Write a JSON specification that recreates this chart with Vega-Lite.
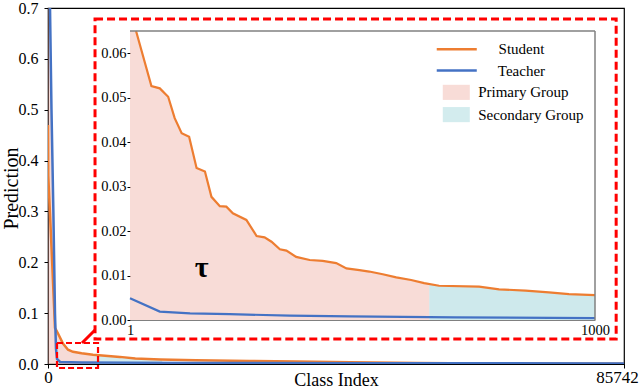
{
  "$schema": "https://vega.github.io/schema/vega-lite/v6.json",
  "width": 576,
  "height": 356,
  "autosize": {"type": "none"},
  "padding": {"left": 48, "top": 8, "right": 16, "bottom": 24},
  "background": "white",
  "config": {
    "view": {"stroke": "#000000", "strokeWidth": 1.2},
    "font": "Liberation Serif",
    "axis": {"grid": false, "labelFont": "Liberation Serif", "titleFont": "Liberation Serif", "titleFontWeight": "normal", "labelColor": "#000000", "titleColor": "#000000", "domainColor": "#000000", "tickColor": "#000000"}
  },
  "datasets": {
    "mainStudent": [
      {"i": 0, "v": 0.47}, {"i": 40, "v": 0.37}, {"i": 520, "v": 0.23}, {"i": 1040, "v": 0.071},
      {"i": 1490, "v": 0.06}, {"i": 2230, "v": 0.04}, {"i": 2980, "v": 0.028}, {"i": 3720, "v": 0.024},
      {"i": 5000, "v": 0.021}, {"i": 6700, "v": 0.018}, {"i": 8500, "v": 0.016}, {"i": 10700, "v": 0.014},
      {"i": 13000, "v": 0.011}, {"i": 16700, "v": 0.009}, {"i": 22000, "v": 0.0075}, {"i": 30000, "v": 0.006},
      {"i": 37000, "v": 0.0048}, {"i": 45000, "v": 0.0035}, {"i": 55000, "v": 0.0022}, {"i": 65000, "v": 0.0012},
      {"i": 75000, "v": 0.0007}, {"i": 85742, "v": 0.0004}
    ],
    "mainTeacher": [
      {"i": 0, "v": 0.85}, {"i": 300, "v": 0.7}, {"i": 520, "v": 0.5}, {"i": 800, "v": 0.3},
      {"i": 1040, "v": 0.1}, {"i": 1190, "v": 0.03}, {"i": 1340, "v": 0.01}, {"i": 1800, "v": 0.004},
      {"i": 5000, "v": 0.003}, {"i": 20000, "v": 0.0022}, {"i": 50000, "v": 0.0015}, {"i": 85742, "v": 0.001}
    ],
    "mainPrimary": [
      {"i": 0, "v": 0.85}, {"i": 300, "v": 0.7}, {"i": 520, "v": 0.5}, {"i": 800, "v": 0.3},
      {"i": 1040, "v": 0.1}, {"i": 1190, "v": 0.066}, {"i": 1490, "v": 0.06}, {"i": 2230, "v": 0.04},
      {"i": 2980, "v": 0.028}, {"i": 3720, "v": 0.024}, {"i": 5000, "v": 0.021}, {"i": 7000, "v": 0.0175}
    ],
    "mainSecondary": [
      {"i": 7000, "v": 0.0175}, {"i": 8500, "v": 0.016}, {"i": 10700, "v": 0.014}, {"i": 13000, "v": 0.011}, {"i": 17000, "v": 0.009}
    ],
    "bigBox": [{"i": 7000, "i2": 84575, "v": 0.0492, "v2": 0.6784}],
    "smallBox": [{"i": 1340, "i2": 7445, "v": -0.0079, "v2": 0.0413}],
    "connector": [{"i": 5061, "i2": 6996, "v": 0.0413, "v2": 0.0669}],
    "insStudent": [
      {"i": 14, "v": 0.065}, {"i": 47, "v": 0.0526}, {"i": 65, "v": 0.0521}, {"i": 83, "v": 0.0502},
      {"i": 97, "v": 0.0454}, {"i": 112, "v": 0.042}, {"i": 128, "v": 0.0412}, {"i": 144, "v": 0.0342},
      {"i": 162, "v": 0.0334}, {"i": 176, "v": 0.0277}, {"i": 194, "v": 0.0256}, {"i": 208, "v": 0.0255},
      {"i": 222, "v": 0.024}, {"i": 251, "v": 0.0225}, {"i": 273, "v": 0.0189}, {"i": 290, "v": 0.0186},
      {"i": 305, "v": 0.0176}, {"i": 323, "v": 0.0159}, {"i": 337, "v": 0.0156}, {"i": 358, "v": 0.0142},
      {"i": 387, "v": 0.0135}, {"i": 415, "v": 0.0133}, {"i": 444, "v": 0.0128}, {"i": 466, "v": 0.0116},
      {"i": 494, "v": 0.0112}, {"i": 515, "v": 0.0109}, {"i": 544, "v": 0.0103}, {"i": 573, "v": 0.0096},
      {"i": 605, "v": 0.009}, {"i": 633, "v": 0.0083}, {"i": 665, "v": 0.0077}, {"i": 751, "v": 0.0075},
      {"i": 794, "v": 0.0069}, {"i": 851, "v": 0.0066}, {"i": 901, "v": 0.0062}, {"i": 944, "v": 0.0058},
      {"i": 1000, "v": 0.0056}
    ],
    "insTeacher": [
      {"i": 1, "v": 0.0049}, {"i": 65, "v": 0.0019}, {"i": 130, "v": 0.0015}, {"i": 215, "v": 0.0013},
      {"i": 344, "v": 0.001}, {"i": 473, "v": 0.0008}, {"i": 700, "v": 0.0006}, {"i": 1000, "v": 0.0004}
    ],
    "insPrimary": [
      {"i": 1, "v": 0.065}, {"i": 14, "v": 0.065}, {"i": 47, "v": 0.0526}, {"i": 65, "v": 0.0521}, {"i": 83, "v": 0.0502},
      {"i": 97, "v": 0.0454}, {"i": 112, "v": 0.042}, {"i": 128, "v": 0.0412}, {"i": 144, "v": 0.0342},
      {"i": 162, "v": 0.0334}, {"i": 176, "v": 0.0277}, {"i": 194, "v": 0.0256}, {"i": 208, "v": 0.0255},
      {"i": 222, "v": 0.024}, {"i": 251, "v": 0.0225}, {"i": 273, "v": 0.0189}, {"i": 290, "v": 0.0186},
      {"i": 305, "v": 0.0176}, {"i": 323, "v": 0.0159}, {"i": 337, "v": 0.0156}, {"i": 358, "v": 0.0142},
      {"i": 387, "v": 0.0135}, {"i": 415, "v": 0.0133}, {"i": 444, "v": 0.0128}, {"i": 466, "v": 0.0116},
      {"i": 494, "v": 0.0112}, {"i": 515, "v": 0.0109}, {"i": 544, "v": 0.0103}, {"i": 573, "v": 0.0096},
      {"i": 605, "v": 0.009}, {"i": 633, "v": 0.0083}, {"i": 644, "v": 0.0081}
    ],
    "insSecondary": [
      {"i": 644, "v": 0.0081}, {"i": 665, "v": 0.0077}, {"i": 751, "v": 0.0075},
      {"i": 794, "v": 0.0069}, {"i": 851, "v": 0.0066}, {"i": 901, "v": 0.0062}, {"i": 944, "v": 0.0058},
      {"i": 1000, "v": 0.0056}
    ],
    "insFrameTop": [{"i": 1, "i2": 1000, "v": 0.065}],
    "insFrameRight": [{"i": 1000, "v": 0, "v2": 0.065}],
    "legendLines": [
      {"i": 660, "i2": 746, "v": 0.0609, "s": "Student"},
      {"i": 660, "i2": 746, "v": 0.0561, "s": "Teacher"}
    ],
    "legendBoxes": [
      {"i": 673, "i2": 731, "v": 0.0495, "v2": 0.0529, "s": "Primary Group"},
      {"i": 673, "i2": 731, "v": 0.0445, "v2": 0.0479, "s": "Secondary Group"}
    ],
    "legendLineText": [
      {"i": 842, "v": 0.0609, "label": "Student"},
      {"i": 842, "v": 0.0561, "label": "Teacher"}
    ],
    "legendBoxText": [
      {"i": 749, "v": 0.0512, "label": "Primary Group"},
      {"i": 749, "v": 0.0462, "label": "Secondary Group"}
    ],
    "tau": [{"i": 155, "v": 0.0117, "label": "τ"}]
  },
  "layer": [
    {
      "encoding": {
        "x": {"field": "i", "type": "quantitative",
          "scale": {"domain": [0, 85742], "nice": false, "zero": false},
          "axis": {"values": [0, 85742], "format": "d", "title": "Class Index", "labelFont": "Liberation Serif", "titleFont": "Liberation Serif",
            "labelFontSize": 17, "titleFontSize": 18,
            "tickSize": 4, "labelPadding": 1, "titlePadding": -14, "labelFlush": false,
            "labelOffset": {"condition": {"test": "datum.value > 0", "value": -7}, "value": 0}}},
        "y": {"field": "v", "type": "quantitative",
          "scale": {"domain": [0, 0.7], "nice": false, "zero": false},
          "axis": {"values": [0, 0.1, 0.2, 0.3, 0.4, 0.5, 0.6, 0.7], "format": ".1f", "title": "Prediction",
            "labelFont": "Liberation Serif", "titleFont": "Liberation Serif",
            "labelFontSize": 16, "titleFontSize": 20, "tickSize": 4, "labelPadding": 6,
            "titleX": -37, "titleY": 180, "titleAngle": -90, "titleAlign": "center", "titleBaseline": "middle"}}
      },
      "layer": [
        {"data": {"name": "mainPrimary"}, "mark": {"type": "area", "clip": true, "color": "#e8a59a", "opacity": 0.4}},
        {"data": {"name": "mainSecondary"}, "mark": {"type": "area", "clip": true, "color": "#9fd3d8", "opacity": 0.45}},
        {"data": {"name": "mainStudent"}, "mark": {"type": "line", "clip": true, "color": "#ED7D31", "strokeWidth": 2.5}},
        {"data": {"name": "mainTeacher"}, "mark": {"type": "line", "clip": true, "color": "#4472C4", "strokeWidth": 2.5}},
        {"data": {"name": "bigBox"}, "mark": {"type": "rect", "fillOpacity": 0, "stroke": "#ff0000", "strokeWidth": 3, "strokeDash": [8, 4]},
          "encoding": {"x2": {"field": "i2"}, "y2": {"field": "v2"}}},
        {"data": {"name": "smallBox"}, "mark": {"type": "rect", "fillOpacity": 0, "stroke": "#ff0000", "strokeWidth": 2.2, "strokeDash": [6, 3]},
          "encoding": {"x2": {"field": "i2"}, "y2": {"field": "v2"}}},
        {"data": {"name": "connector"}, "mark": {"type": "rule", "color": "#ff0000", "strokeWidth": 3},
          "encoding": {"x2": {"field": "i2"}, "y2": {"field": "v2"}}}
      ]
    },
    {
      "encoding": {
        "x": {"field": "i", "type": "quantitative",
          "scale": {"domain": [1, 1000], "range": [82, 547], "nice": false, "zero": false},
          "axis": {"orient": "bottom", "offset": -44, "values": [1, 1000], "format": "d", "title": null,
            "labelFont": "Liberation Serif", "labelFontSize": 14.5,
            "ticks": false, "domain": true, "domainColor": "#808080", "labelPadding": 3, "labelFlush": false}},
        "y": {"field": "v", "type": "quantitative",
          "scale": {"domain": [0, 0.065], "range": [312, 23], "nice": false, "zero": false},
          "axis": {"orient": "left", "offset": -82, "values": [0, 0.01, 0.02, 0.03, 0.04, 0.05, 0.06], "format": ".2f", "title": null,
            "labelFont": "Liberation Serif", "labelFontSize": 14.5, "tickSize": 3, "labelPadding": 1, "domain": false}}
      },
      "layer": [
        {"data": {"name": "insPrimary"}, "mark": {"type": "area", "color": "#eea89c", "opacity": 0.4}},
        {"data": {"name": "insSecondary"}, "mark": {"type": "area", "color": "#92cfd4", "opacity": 0.45}},
        {"data": {"name": "insTeacher"}, "mark": {"type": "line", "color": "#4472C4", "strokeWidth": 2.2}},
        {"data": {"name": "insStudent"}, "mark": {"type": "line", "color": "#ED7D31", "strokeWidth": 2.2}},
        {"data": {"name": "insFrameTop"}, "mark": {"type": "rule", "color": "#808080", "strokeWidth": 1.5},
          "encoding": {"x2": {"field": "i2"}}},
        {"data": {"name": "insFrameRight"}, "mark": {"type": "rule", "color": "#808080", "strokeWidth": 1.5},
          "encoding": {"y2": {"field": "v2"}}},
        {"data": {"name": "legendLines"}, "mark": {"type": "rule", "strokeWidth": 2.5},
          "encoding": {"x2": {"field": "i2"},
            "color": {"field": "s", "type": "nominal", "scale": {"domain": ["Student", "Teacher"], "range": ["#ED7D31", "#4472C4"]}, "legend": null}}},
        {"data": {"name": "legendBoxes"}, "mark": {"type": "rect", "opacity": 0.4},
          "encoding": {"x2": {"field": "i2"}, "y2": {"field": "v2"},
            "fill": {"field": "s", "type": "nominal", "scale": {"domain": ["Primary Group", "Secondary Group"], "range": ["#eea89c", "#92cfd4"]}, "legend": null}}},
        {"data": {"name": "legendLineText"}, "mark": {"type": "text", "font": "Liberation Serif", "fontSize": 15, "align": "center", "baseline": "middle", "color": "#000000"},
          "encoding": {"text": {"field": "label"}}},
        {"data": {"name": "legendBoxText"}, "mark": {"type": "text", "font": "Liberation Serif", "fontSize": 15, "align": "left", "baseline": "middle", "color": "#000000"},
          "encoding": {"text": {"field": "label"}}},
        {"data": {"name": "tau"}, "mark": {"type": "text", "font": "Liberation Serif", "fontSize": 30, "fontWeight": "bold", "align": "center", "baseline": "middle", "color": "#000000"},
          "encoding": {"text": {"field": "label"}}}
      ]
    }
  ],
  "resolve": {"scale": {"x": "independent", "y": "independent", "color": "independent", "fill": "independent"}, "axis": {"x": "independent", "y": "independent"}}
}
